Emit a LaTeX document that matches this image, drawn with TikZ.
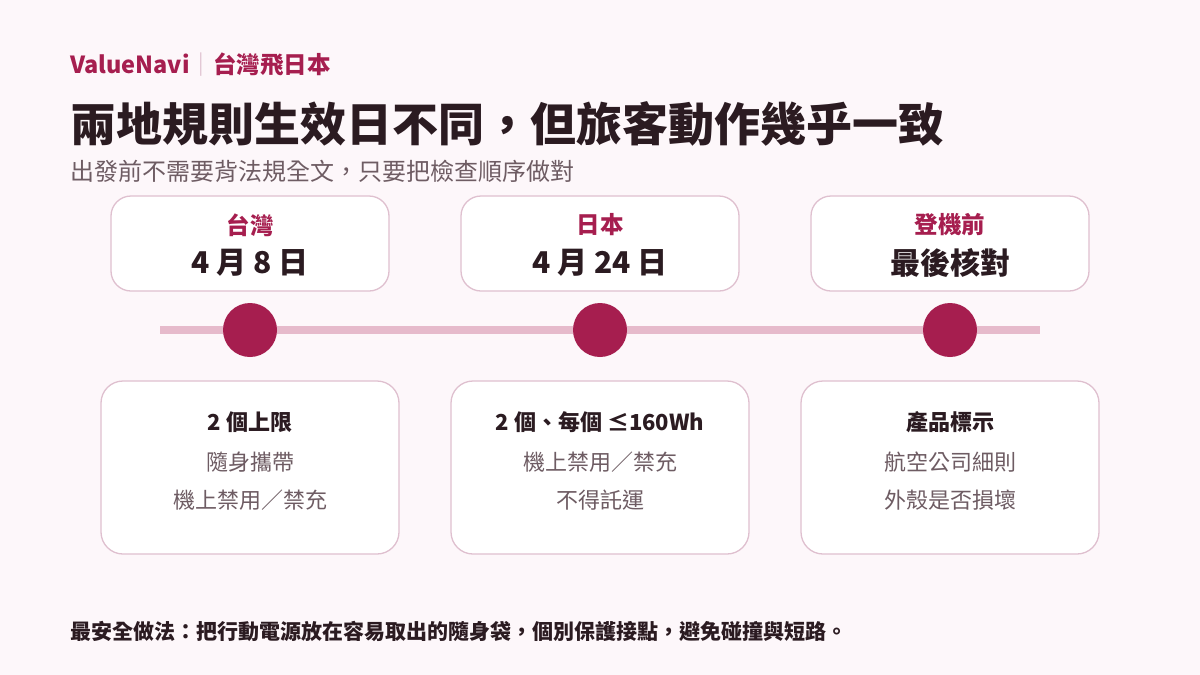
\documentclass[tikz,border=0pt]{standalone}
\usepackage{fontspec}
\setmainfont{Noto Sans CJK TC}
\usetikzlibrary{positioning,calc}
\usepackage{xcolor}

\definecolor{pagebg}{HTML}{FDF7FA}
\definecolor{crimson}{HTML}{A61E4F}
\definecolor{rail}{HTML}{E6BACB}
\definecolor{boxline}{HTML}{DFC0CF}
\definecolor{ink}{HTML}{2B1B21}
\definecolor{softink}{HTML}{6E5C63}

\newcommand{\fsz}[1]{\fontsize{#1}{#1}\selectfont}

\begin{document}
\begin{tikzpicture}[x=1pt, y=-1pt,
  datebox/.style={draw=boxline, line width=1.3pt, fill=white, rounded corners=20pt,
    minimum width=278pt, minimum height=95pt, inner sep=0pt},
  notebox/.style={draw=boxline, line width=1.3pt, fill=white, rounded corners=22pt,
    minimum width=298pt, minimum height=173pt, inner sep=0pt},
  txt/.style={inner sep=0pt, text=ink},
  dot/.style={circle, fill=crimson, minimum size=54pt, inner sep=0pt}]

% Page and margins
\fill[pagebg] (0,0) rectangle (1200,675);
\useasboundingbox (0,0) rectangle (1200,675);

% Heading block
\node[txt, anchor=west, text=crimson] (brand) at (70,65) {\fsz{23.5}\bfseries ValueNavi\textcolor{boxline}{｜}台灣飛日本};
\node[txt, anchor=west] (title) at (70,124) {\fsz{46}\bfseries 兩地規則生效日不同，但旅客動作幾乎一致};
\node[txt, anchor=west, text=softink] (sub) at (70,171) {\fsz{24}出發前不需要背法規全文，只要把檢查順序做對};

% Timeline rail
\coordinate (railL) at (160,330);
\coordinate (railR) at (1040,330);
\draw[rail, line width=8pt] (railL) -- (railR);

% Date boxes and dots
\foreach \x/\n/\place/\when in {250/tw/台灣/4 月 8 日, 600/jp/日本/4 月 24 日, 950/chk/登機前/最後核對} {
  \node[datebox] (\n) at (\x,243.5) {};
  \node[txt, text=crimson] (\n-place) at (\x,225) {\fsz{23.5}\bfseries \place};
  \node[txt] (\n-when) at (\x,263) {\fsz{30}\bfseries \when};
  \node[dot] (\n-dot) at (\x,330) {};
}

% Rule notes under each dot
\foreach \x/\n/\head/\la/\lb in {250/tw/2 個上限/隨身攜帶/機上禁用／禁充,
    600/jp/2 個、每個 ≤160Wh/機上禁用／禁充/不得託運,
    950/chk/產品標示/航空公司細則/外殼是否損壞} {
  \node[notebox] (\n-note) at (\x,467.5) {};
  \node[txt] (\n-head) at (\x,422) {\fsz{22}\bfseries \head};
  \node[txt, text=softink] (\n-la) at (\x,462) {\fsz{22}\la};
  \node[txt, text=softink] (\n-lb) at (\x,500) {\fsz{22}\lb};
}

% Footer
\node[txt, anchor=west] (tip) at (70,631) {\fsz{21}\bfseries 最安全做法：把行動電源放在容易取出的隨身袋，個別保護接點，避免碰撞與短路。};
\end{tikzpicture}
\end{document}
